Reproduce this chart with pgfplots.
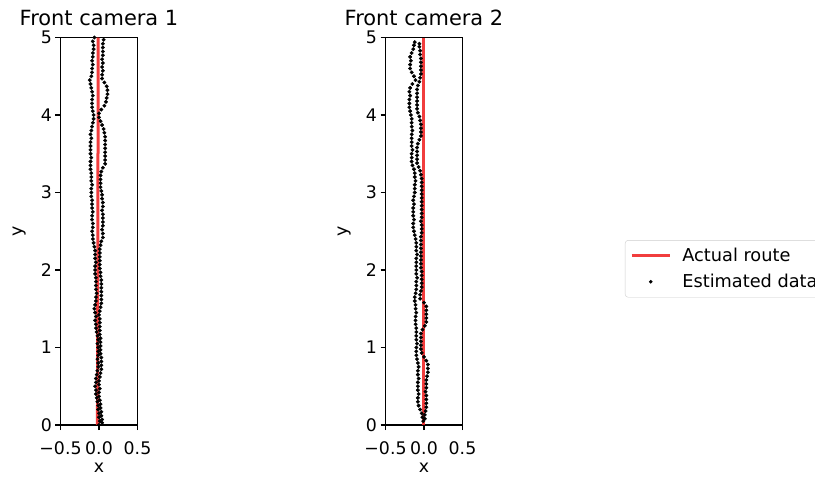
\documentclass[border=0pt]{standalone}
\usepackage{fontspec}
\setmainfont{DejaVu Sans}
\usepackage{pgfplots}
\pgfplotsset{compat=1.18}
\definecolor{routered}{RGB}{240,40,40}
\pgfplotsset{
  camstyle/.style={
    scale only axis, width=77bp, height=387.5bp,
    xmin=-0.5, xmax=0.5, ymin=0, ymax=5,
    xtick={-0.5,0,0.5}, xticklabels={−0.5,0.0,0.5},
    ytick={0,1,2,3,4,5},
    /pgf/number format/assume math mode=true,
    xtick pos=bottom, ytick pos=left,
    tick align=outside, major tick length=5bp,
    tick style={black, line width=1.1bp},
    axis line style={line width=1.1bp},
    ticklabel style={font=\fontsize{17.4}{20}\selectfont},
    xticklabel style={yshift=-8bp},
    label style={font=\fontsize{17.4}{20}\selectfont},
    every axis title shift=0pt,
    title style={font=\fontsize{21}{24}\selectfont, anchor=base, at={(0.5,1)}, yshift=12bp, inner sep=0pt},
    xlabel=x, ylabel=y,
    xlabel style={at={(axis description cs:0.5,0)}, anchor=base, yshift=-47bp, inner sep=0pt},
    ylabel style={at={(axis description cs:-0.53,0.5)}, anchor=center},
    clip=true,
  },
  estpts/.style={only marks, mark=*, mark size=1.75bp, black, mark options={draw=black, fill=black}},
}
\begin{document}
\begin{tikzpicture}
\begin{axis}[camstyle, at={(60.5bp,52bp)}, anchor=south west, title={Front camera 1}]
\addplot[routered, opacity=0.9, line width=3bp] coordinates {(-0.02,0) (-0.01,5)};
\addplot[estpts] coordinates {
(0.00,0.00)(0.01,0.05)(0.00,0.10)(0.00,0.15)(-0.01,0.20)(-0.01,0.25)(-0.02,0.30)(-0.03,0.35)(-0.04,0.40)(-0.04,0.45)(-0.05,0.50)(-0.04,0.55)(-0.04,0.60)(-0.03,0.65)(-0.02,0.70)(-0.01,0.75)(-0.01,0.80)(-0.02,0.85)(-0.01,0.90)(-0.01,0.95)(-0.01,1.00)(-0.02,1.05)(-0.01,1.10)(-0.02,1.15)(-0.03,1.20)(-0.04,1.25)(-0.04,1.30)(-0.05,1.35)(-0.04,1.40)(-0.05,1.45)(-0.06,1.50)(-0.05,1.55)(-0.04,1.60)(-0.04,1.65)(-0.03,1.70)(-0.04,1.75)(-0.04,1.80)(-0.04,1.85)(-0.04,1.90)(-0.05,1.95)(-0.05,2.00)(-0.05,2.05)(-0.04,2.10)(-0.05,2.15)(-0.05,2.20)(-0.05,2.25)(-0.06,2.30)(-0.07,2.35)(-0.08,2.40)(-0.08,2.45)(-0.09,2.50)(-0.08,2.55)(-0.08,2.60)(-0.09,2.65)(-0.09,2.70)(-0.08,2.75)(-0.09,2.80)(-0.09,2.85)(-0.09,2.90)(-0.10,2.95)(-0.10,3.00)(-0.10,3.05)(-0.09,3.10)(-0.10,3.15)(-0.10,3.20)(-0.10,3.25)(-0.11,3.30)(-0.11,3.35)(-0.11,3.40)(-0.10,3.45)(-0.11,3.50)(-0.11,3.55)(-0.11,3.60)(-0.11,3.65)(-0.10,3.70)(-0.11,3.75)(-0.10,3.80)(-0.09,3.85)(-0.08,3.90)(-0.07,3.95)(-0.07,4.00)(-0.08,4.05)(-0.09,4.10)(-0.09,4.15)(-0.09,4.20)(-0.08,4.25)(-0.09,4.30)(-0.10,4.35)(-0.11,4.40)(-0.12,4.45)(-0.10,4.50)(-0.09,4.55)(-0.09,4.60)(-0.08,4.65)(-0.09,4.70)(-0.08,4.75)(-0.08,4.80)(-0.07,4.85)(-0.07,4.90)(-0.08,4.95)(-0.06,5.00)
(0.04,0.03)(0.04,0.07)(0.03,0.12)(0.03,0.17)(0.02,0.22)(0.02,0.27)(0.01,0.32)(0.00,0.37)(0.00,0.42)(0.01,0.47)(0.00,0.52)(0.00,0.57)(0.01,0.62)(0.02,0.67)(0.03,0.72)(0.03,0.77)(0.03,0.82)(0.03,0.87)(0.02,0.92)(0.02,0.97)(0.02,1.02)(0.02,1.07)(0.02,1.12)(0.01,1.17)(0.01,1.22)(0.01,1.27)(0.01,1.32)(0.01,1.37)(0.00,1.42)(0.01,1.47)(0.02,1.52)(0.03,1.57)(0.03,1.62)(0.03,1.67)(0.03,1.72)(0.03,1.77)(0.03,1.82)(0.03,1.87)(0.02,1.92)(0.02,1.97)(0.01,2.02)(0.01,2.07)(0.01,2.12)(0.01,2.17)(0.01,2.22)(0.01,2.27)(0.02,2.32)(0.03,2.37)(0.05,2.42)(0.05,2.47)(0.04,2.52)(0.05,2.57)(0.05,2.62)(0.05,2.67)(0.05,2.72)(0.04,2.77)(0.05,2.82)(0.05,2.87)(0.04,2.92)(0.04,2.97)(0.03,3.02)(0.02,3.07)(0.02,3.12)(0.02,3.17)(0.02,3.22)(0.03,3.27)(0.05,3.32)(0.08,3.37)(0.08,3.42)(0.08,3.47)(0.08,3.52)(0.08,3.57)(0.08,3.62)(0.08,3.67)(0.08,3.72)(0.07,3.77)(0.06,3.82)(0.04,3.87)(0.02,3.92)(0.00,3.97)(0.00,4.02)(0.03,4.07)(0.07,4.12)(0.09,4.17)(0.10,4.22)(0.11,4.27)(0.11,4.32)(0.10,4.37)(0.07,4.42)(0.04,4.47)(0.04,4.52)(0.05,4.57)(0.04,4.62)(0.05,4.67)(0.04,4.72)(0.05,4.77)(0.05,4.82)(0.05,4.87)(0.05,4.92)(0.06,4.97)
};
\end{axis}
\begin{axis}[camstyle, at={(385.5bp,52bp)}, anchor=south west, title={Front camera 2},
  legend style={at={(axis description cs:3.11,0.477)}, anchor=north west, draw=black!20, rounded corners=3bp,
    font=\fontsize{17.8}{20}\selectfont, column sep=9bp, row sep=7bp, inner xsep=5bp, inner ysep=6bp},
  legend cell align=left]
\addplot[routered, opacity=0.9, line width=3bp,
  legend image code/.code={\draw[routered, line width=3.2bp] (0bp,0bp) -- (38bp,0bp);}]
  coordinates {(-0.01,0) (-0.01,5)};
\addlegendentry{Actual route}
\addplot[estpts, legend image code/.code={\fill[black] (19bp,0bp) circle (1.6bp); \path (0bp,0bp) (38bp,0bp);}] coordinates {
(-0.01,0.05)(-0.02,0.10)(-0.03,0.15)(-0.05,0.20)(-0.07,0.25)(-0.08,0.30)(-0.08,0.35)(-0.07,0.40)(-0.08,0.45)(-0.08,0.50)(-0.08,0.55)(-0.07,0.60)(-0.08,0.65)(-0.08,0.70)(-0.07,0.75)(-0.08,0.80)(-0.09,0.85)(-0.10,0.90)(-0.10,0.95)(-0.10,1.00)(-0.09,1.05)(-0.10,1.10)(-0.10,1.15)(-0.10,1.20)(-0.10,1.25)(-0.11,1.30)(-0.11,1.35)(-0.11,1.40)(-0.10,1.45)(-0.11,1.50)(-0.11,1.55)(-0.12,1.60)(-0.12,1.65)(-0.11,1.70)(-0.10,1.75)(-0.10,1.80)(-0.10,1.85)(-0.09,1.90)(-0.10,1.95)(-0.10,2.00)(-0.10,2.05)(-0.10,2.10)(-0.10,2.15)(-0.09,2.20)(-0.10,2.25)(-0.10,2.30)(-0.10,2.35)(-0.11,2.40)(-0.12,2.45)(-0.13,2.50)(-0.14,2.55)(-0.14,2.60)(-0.13,2.65)(-0.14,2.70)(-0.14,2.75)(-0.14,2.80)(-0.13,2.85)(-0.14,2.90)(-0.13,2.95)(-0.12,3.00)(-0.12,3.05)(-0.12,3.10)(-0.11,3.15)(-0.12,3.20)(-0.12,3.25)(-0.13,3.30)(-0.15,3.35)(-0.16,3.40)(-0.16,3.45)(-0.16,3.50)(-0.15,3.55)(-0.16,3.60)(-0.16,3.65)(-0.16,3.70)(-0.16,3.75)(-0.15,3.80)(-0.16,3.85)(-0.16,3.90)(-0.16,3.95)(-0.17,4.00)(-0.18,4.05)(-0.19,4.10)(-0.19,4.15)(-0.19,4.20)(-0.18,4.25)(-0.19,4.30)(-0.18,4.35)(-0.15,4.40)(-0.11,4.45)(-0.13,4.50)(-0.16,4.55)(-0.18,4.60)(-0.18,4.65)(-0.17,4.70)(-0.18,4.75)(-0.16,4.80)(-0.14,4.85)(-0.13,4.90)(-0.12,4.94)
(0.01,0.08)(0.01,0.13)(0.02,0.18)(0.03,0.23)(0.03,0.28)(0.03,0.33)(0.03,0.38)(0.02,0.43)(0.03,0.48)(0.03,0.53)(0.03,0.58)(0.04,0.63)(0.05,0.68)(0.05,0.73)(0.05,0.78)(0.03,0.83)(0.00,0.88)(-0.03,0.93)(-0.04,0.98)(-0.04,1.03)(-0.04,1.08)(-0.04,1.13)(-0.04,1.18)(-0.02,1.23)(0.01,1.28)(0.03,1.33)(0.03,1.38)(0.03,1.43)(0.03,1.48)(0.03,1.53)(0.00,1.58)(-0.05,1.63)(-0.05,1.68)(-0.04,1.73)(-0.03,1.78)(-0.03,1.83)(-0.03,1.88)(-0.03,1.93)(-0.03,1.98)(-0.04,2.03)(-0.04,2.08)(-0.04,2.13)(-0.04,2.18)(-0.04,2.23)(-0.04,2.28)(-0.04,2.33)(-0.04,2.38)(-0.04,2.43)(-0.03,2.48)(-0.03,2.53)(-0.03,2.58)(-0.04,2.63)(-0.03,2.68)(-0.03,2.73)(-0.03,2.78)(-0.03,2.83)(-0.03,2.88)(-0.03,2.93)(-0.03,2.98)(-0.03,3.03)(-0.03,3.08)(-0.03,3.13)(-0.03,3.18)(-0.04,3.23)(-0.05,3.28)(-0.07,3.33)(-0.09,3.38)(-0.09,3.43)(-0.09,3.48)(-0.09,3.53)(-0.09,3.58)(-0.08,3.63)(-0.06,3.68)(-0.04,3.73)(-0.04,3.78)(-0.04,3.83)(-0.04,3.88)(-0.05,3.93)(-0.06,3.98)(-0.08,4.03)(-0.09,4.08)(-0.09,4.13)(-0.09,4.18)(-0.09,4.23)(-0.09,4.28)(-0.09,4.33)(-0.08,4.38)(-0.06,4.43)(-0.05,4.48)(-0.04,4.53)(-0.04,4.58)(-0.04,4.63)(-0.04,4.68)(-0.04,4.73)(-0.05,4.78)(-0.05,4.83)(-0.06,4.88)(-0.06,4.92)
};
\addlegendentry{Estimated data}
\end{axis}
\pgfresetboundingbox
\path[use as bounding box] (0bp,0bp) rectangle (815bp,477bp);
\end{tikzpicture}
\end{document}
